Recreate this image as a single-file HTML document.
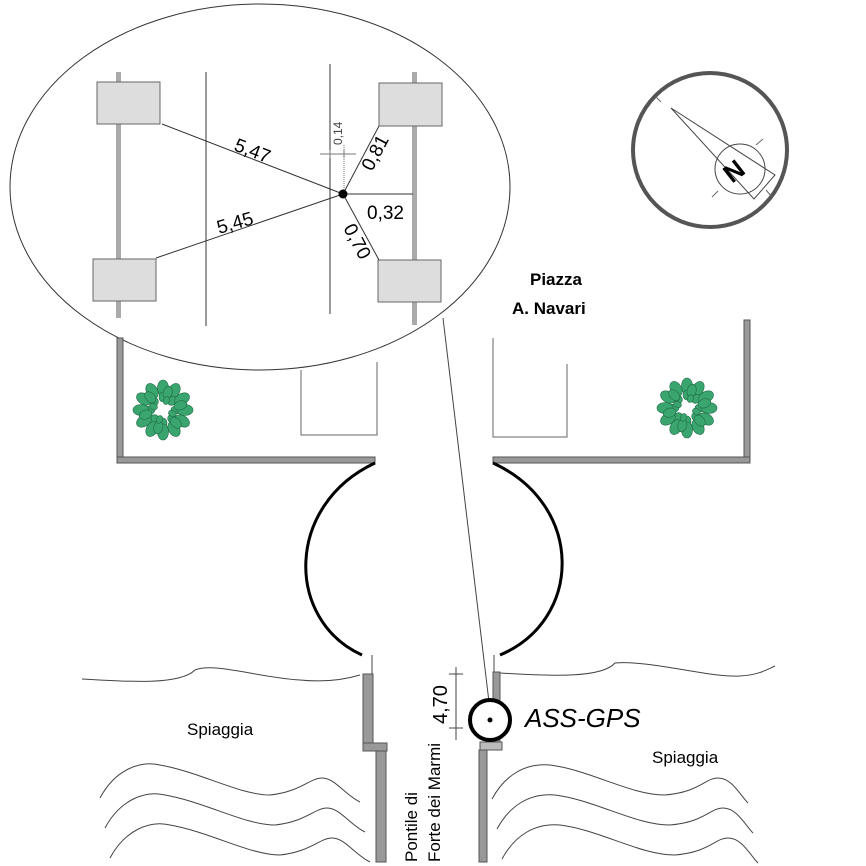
<!DOCTYPE html>
<html><head><meta charset="utf-8"><style>body{margin:0;background:#fff}svg{display:block}text{font-family:"Liberation Sans",sans-serif}</style></head><body>
<svg width="866" height="866" viewBox="0 0 866 866" xmlns="http://www.w3.org/2000/svg">
<defs>
<g id="plant">
<g fill="#3aa56e" stroke="#1f6b45" stroke-width="0.6">
<ellipse cx="0" cy="-22" rx="5.5" ry="8"/><ellipse cx="0" cy="-13" rx="4" ry="5"/>
<ellipse cx="0" cy="-22" rx="5.5" ry="8" transform="rotate(30)"/><ellipse cx="0" cy="-13" rx="4" ry="5" transform="rotate(45)"/>
<ellipse cx="0" cy="-22" rx="5.5" ry="8" transform="rotate(60)"/><ellipse cx="0" cy="-13" rx="4" ry="5" transform="rotate(90)"/>
<ellipse cx="0" cy="-22" rx="5.5" ry="8" transform="rotate(90)"/><ellipse cx="0" cy="-13" rx="4" ry="5" transform="rotate(135)"/>
<ellipse cx="0" cy="-22" rx="5.5" ry="8" transform="rotate(120)"/><ellipse cx="0" cy="-13" rx="4" ry="5" transform="rotate(180)"/>
<ellipse cx="0" cy="-22" rx="5.5" ry="8" transform="rotate(150)"/><ellipse cx="0" cy="-13" rx="4" ry="5" transform="rotate(225)"/>
<ellipse cx="0" cy="-22" rx="5.5" ry="8" transform="rotate(180)"/><ellipse cx="0" cy="-13" rx="4" ry="5" transform="rotate(270)"/>
<ellipse cx="0" cy="-22" rx="5.5" ry="8" transform="rotate(210)"/><ellipse cx="0" cy="-13" rx="4" ry="5" transform="rotate(315)"/>
<ellipse cx="0" cy="-22" rx="5.5" ry="8" transform="rotate(240)"/>
<ellipse cx="0" cy="-22" rx="5.5" ry="8" transform="rotate(270)"/>
<ellipse cx="0" cy="-22" rx="5.5" ry="8" transform="rotate(300)"/>
<ellipse cx="0" cy="-22" rx="5.5" ry="8" transform="rotate(330)"/>
<ellipse cx="0" cy="-18" rx="4.5" ry="6.5" transform="rotate(15)"/><ellipse cx="0" cy="-18" rx="4.5" ry="6.5" transform="rotate(75)"/>
<ellipse cx="0" cy="-18" rx="4.5" ry="6.5" transform="rotate(135)"/><ellipse cx="0" cy="-18" rx="4.5" ry="6.5" transform="rotate(195)"/>
<ellipse cx="0" cy="-18" rx="4.5" ry="6.5" transform="rotate(255)"/><ellipse cx="0" cy="-18" rx="4.5" ry="6.5" transform="rotate(315)"/>
<ellipse cx="0" cy="-10" rx="3" ry="4" transform="rotate(20)"/><ellipse cx="0" cy="-10" rx="3" ry="4" transform="rotate(110)"/>
<ellipse cx="0" cy="-10" rx="3" ry="4" transform="rotate(200)"/><ellipse cx="0" cy="-10" rx="3" ry="4" transform="rotate(290)"/>
</g></g>
</defs>
<ellipse cx="260" cy="187" rx="250" ry="183" fill="none" stroke="#333" stroke-width="1"/>
<rect x="116" y="72" width="5" height="246" fill="#aaa"/>
<rect x="412" y="72" width="5" height="253" fill="#aaa"/>
<g fill="#ddd" stroke="#666" stroke-width="1">
<rect x="97" y="82" width="63" height="42"/>
<rect x="93" y="259" width="63" height="42"/>
<rect x="379" y="83" width="63" height="43"/>
<rect x="378" y="260" width="63" height="42"/>
</g>
<g stroke="#333" stroke-width="1" fill="none">
<line x1="206" y1="72" x2="206" y2="326"/>
<line x1="330" y1="64" x2="330" y2="314"/>
<line x1="343" y1="194" x2="162" y2="124"/>
<line x1="343" y1="194" x2="156" y2="258"/>
<line x1="343" y1="194" x2="379" y2="126"/>
<line x1="343" y1="194" x2="379" y2="260"/>
<line x1="343" y1="194" x2="413" y2="194"/>
<line x1="344" y1="145" x2="344" y2="194" stroke-dasharray="1,1" stroke="#777"/>
<line x1="320" y1="154" x2="356" y2="154" stroke="#777"/>
<line x1="330" y1="150" x2="330" y2="158" stroke="#777"/>
<line x1="344" y1="150" x2="344" y2="158" stroke="#777"/>
</g>
<circle cx="343" cy="194" r="4.5" fill="#000"/>
<text font-size="12" fill="#444" transform="translate(342,145) rotate(-90)">0,14</text>
<text font-size="19" transform="translate(233,150) rotate(21)">5,47</text>
<text font-size="19" transform="translate(219,234) rotate(-16)">5,45</text>
<text font-size="19" transform="translate(372,172) rotate(-62)">0,81</text>
<text font-size="19" x="367" y="219">0,32</text>
<text font-size="19" transform="translate(343,228) rotate(62)">0,70</text>
<circle cx="710" cy="150" r="77" fill="none" stroke="#555" stroke-width="4"/>
<circle cx="740" cy="169" r="25" fill="none" stroke="#444" stroke-width="1"/>
<polygon points="671,108 775,175 754,199" fill="none" stroke="#444" stroke-width="1"/>
<g stroke="#666" stroke-width="1">
<line x1="656" y1="97" x2="661" y2="102"/><line x1="756" y1="145" x2="763" y2="139"/>
<line x1="718" y1="191" x2="712" y2="197"/><line x1="766" y1="190" x2="771" y2="196"/>
</g>
<text font-size="26" font-weight="bold" transform="translate(732,184) rotate(-38)">N</text>
<text x="530" y="285" font-size="17" font-weight="bold">Piazza</text>
<text x="512" y="314" font-size="17" font-weight="bold">A. Navari</text>
<g fill="#999" stroke="#555" stroke-width="1">
<rect x="117" y="338" width="6" height="124"/>
<rect x="117" y="457" width="258" height="6"/>
<rect x="744" y="320" width="6" height="142"/>
<rect x="493" y="457" width="257" height="6"/>
</g>
<g fill="none" stroke="#666" stroke-width="1">
<polyline points="301,370 301,435 377,435 377,362"/>
<polyline points="493,338 493,437 567,437 567,364"/>
</g>
<use href="#plant" x="163" y="410"/>
<use href="#plant" x="687" y="408"/>
<g fill="none" stroke="#000" stroke-width="3">
<path d="M375,463 C285,505 285,620 362,655"/>
<path d="M493,463 C585,505 583,620 500,655"/>
</g>
<g stroke="#444" stroke-width="1" fill="none">
<line x1="372" y1="655" x2="372" y2="675"/>
<line x1="494" y1="655" x2="494" y2="672"/>
<line x1="443" y1="318" x2="489" y2="702"/>
<path d="M82,679 C130,682 180,685 195,670 C215,662 260,678 300,680 C330,683 350,678 360,675"/>
<path d="M500,673 C540,675 600,680 615,663 C650,660 710,678 740,676 C760,675 770,668 775,666"/>
<path d="M100,798 C115,770 140,760 160,765 C200,772 240,795 270,795 C300,792 310,778 322,778 C335,778 345,795 360,802"/>
<path d="M105,828 C120,800 145,790 165,795 C205,802 245,825 275,825 C305,822 315,808 327,808 C340,808 350,825 365,832"/>
<path d="M110,858 C125,830 150,820 170,825 C210,832 250,855 280,855 C310,852 320,838 332,838 C345,838 355,855 370,862"/>
<path d="M492,799 C505,775 525,763 550,765 C590,770 630,795 665,795 C700,792 705,778 718,778 C732,778 740,795 748,803"/>
<path d="M497,829 C510,805 530,793 555,795 C595,800 635,825 670,825 C705,822 710,808 723,808 C737,808 745,825 753,833"/>
<path d="M502,859 C515,835 535,823 560,825 C600,830 640,855 675,855 C710,852 715,838 728,838 C742,838 750,855 758,863"/>
<line x1="456" y1="667" x2="456" y2="740"/>
<line x1="449" y1="674" x2="463" y2="674"/>
<line x1="449" y1="728" x2="463" y2="728"/>
</g>
<g fill="#999" stroke="#555" stroke-width="1">
<rect x="363" y="674" width="10" height="69"/>
<rect x="363" y="743" width="24" height="8"/>
<rect x="376" y="751" width="10" height="111"/>
<rect x="493" y="672" width="7" height="70"/>
<rect x="480" y="742" width="22" height="8" fill="#bbb"/>
<rect x="479" y="750" width="8" height="112"/>
</g>
<circle cx="490" cy="720" r="20" fill="#fff" stroke="#000" stroke-width="4"/>
<circle cx="490" cy="720" r="2.5" fill="#000"/>
<text font-size="26" font-style="italic" x="525" y="727">ASS-GPS</text>
<text font-size="20" transform="translate(447,724) rotate(-90)">4,70</text>
<text font-size="17" transform="translate(417,862) rotate(-90)">Pontile di</text>
<text font-size="17" transform="translate(440,862) rotate(-90)">Forte dei Marmi</text>
<text font-size="17" x="187" y="735">Spiaggia</text>
<text font-size="17" x="652" y="763">Spiaggia</text>
</svg>
</body></html>
